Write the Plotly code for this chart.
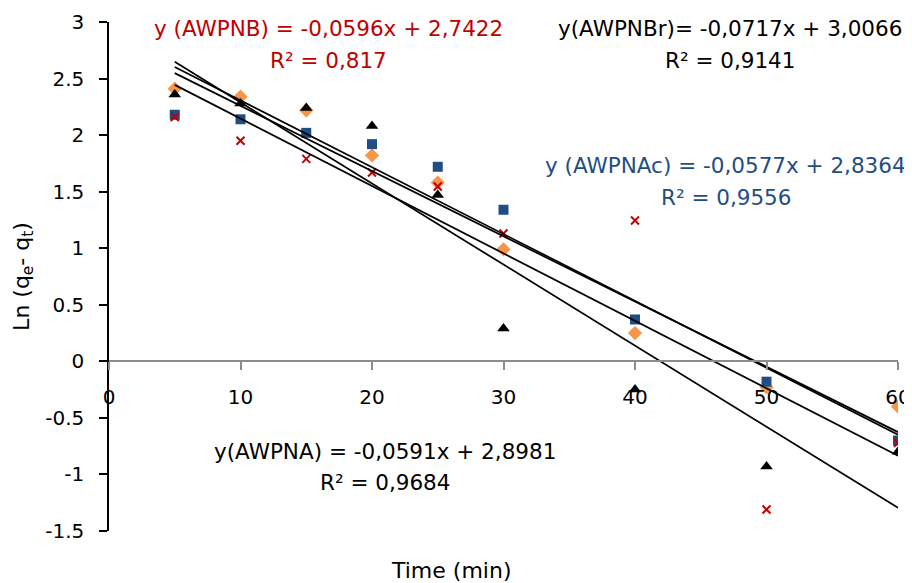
import plotly.graph_objects as go

# ---- data ----
time_min = [5, 10, 15, 20, 25, 30, 40, 50, 60]
awpna = [2.41, 2.34, 2.22, 1.82, 1.58, 0.99, 0.25, -0.23, -0.40]
awpnac = [2.18, 2.14, 2.02, 1.92, 1.72, 1.34, 0.37, -0.18, -0.70]
awpnbr = [2.36, 2.28, 2.24, 2.08, 1.47, 0.29, -0.25, -0.93, -0.80]
awpnb = [2.16, 1.95, 1.79, 1.67, 1.545, 1.13, 1.245, -1.31, -0.72]

series_names = ["AWPNA", "AWPNAc", "AWPNBr", "AWPNB"]
trend_slopes = [-0.0591, -0.0577, -0.0717, -0.0596]
trend_intercepts = [2.8981, 2.8364, 3.0066, 2.7422]
trend_r2 = ["0,9684", "0,9556", "0,9141", "0,817"]

y_tickvals = [3, 2.5, 2, 1.5, 1, 0.5, 0, -0.5, -1, -1.5]
y_ticktext = ["3", "2.5", "2", "1.5", "1", "0.5", "0", "-0.5", "-1", "-1.5"]
x_tickvals = [0, 10, 20, 30, 40, 50, 60]

FONT = "DejaVu Sans"
RED = "#C00000"
BLUE = "#1F4E84"
ORANGE = "#F79646"

fig = go.Figure()

values = [awpna, awpnac, awpnbr, awpnb]
markers = [
    dict(symbol="diamond", size=11, color=ORANGE),
    dict(symbol="square", size=10, color=BLUE),
    dict(symbol="triangle-up", size=11, color="black"),
    dict(symbol="x-thin", size=8, color=RED, line=dict(color=RED, width=2)),
]
for name, vals, mk in zip(series_names, values, markers):
    fig.add_trace(go.Scatter(x=time_min, y=vals, mode="markers", name=name,
                             marker=mk, showlegend=False))

# trendlines from the fitted equations, across the data range
x0, x1 = min(time_min), max(time_min)
for name, m, b in zip(series_names, trend_slopes, trend_intercepts):
    fig.add_trace(go.Scatter(x=[x0, x1], y=[m * x0 + b, m * x1 + b], mode="lines",
                             line=dict(color="black", width=1.75), showlegend=False,
                             hoverinfo="skip"))

# page body has an 8px margin; figure sized so its visible part fills the window
fig.update_layout(
    width=904, height=575,
    margin=dict(l=101, r=14, t=14, b=52),
    paper_bgcolor="white", plot_bgcolor="white",
    font=dict(family=FONT, size=20, color="black"),
    showlegend=False,
)

fig.update_yaxes(
    range=[-1.5, 3], tickvals=y_tickvals, ticktext=y_ticktext,
    showgrid=False, zeroline=False, automargin=False,
    showline=True, linecolor="black", linewidth=1.5,
    ticks="outside", ticklen=8, tickwidth=1.5, tickcolor="black",
    tickfont=dict(size=20), ticklabelstandoff=11,
    title=dict(text="Ln (q<sub>e</sub>- q<sub>t</sub>)", font=dict(size=22), standoff=10),
)
fig.update_xaxes(
    range=[0, 60], tickvals=x_tickvals,
    showgrid=False, zeroline=False, automargin=False,
    showline=True, linecolor="#8C8C8C", linewidth=1.5,
    ticks="outside", ticklen=8, tickwidth=1.5, tickcolor="#8C8C8C",
    tickfont=dict(size=20), ticklabelstandoff=10,
    anchor="free", position=1.5 / 4.5,
)

ann_size = 21.5
# (text, x paper, y paper, colour) -- two centred lines per trendline label
labels = [
    ("y (AWPNB) = -0,0596x + 2,7422", 0.2788, 0.988, RED),
    ("R² = " + trend_r2[3], 0.2788, 0.925, RED),
    ("y(AWPNBr)= -0,0717x + 3,0066", 0.787, 0.988, "black"),
    ("R² = " + trend_r2[2], 0.787, 0.925, "black"),
    ("y (AWPNAc) = -0,0577x + 2,8364", 0.782, 0.719, BLUE),
    ("R² = " + trend_r2[1], 0.782, 0.656, BLUE),
    ("y(AWPNA) = -0,0591x + 2,8981", 0.350, 0.157, "black"),
    ("R² = " + trend_r2[0], 0.350, 0.096, "black"),
]
for text, ax, ay, col in labels:
    fig.add_annotation(text=text, xref="paper", yref="paper", x=ax, y=ay,
                       xanchor="center", yanchor="middle", align="center",
                       showarrow=False, font=dict(family=FONT, size=ann_size, color=col))

fig.add_annotation(text="Time (min)", xref="paper", yref="paper", x=0.4335, y=-0.077,
                   xanchor="center", yanchor="middle", showarrow=False,
                   font=dict(family=FONT, size=22))

fig.write_html("out.html")
